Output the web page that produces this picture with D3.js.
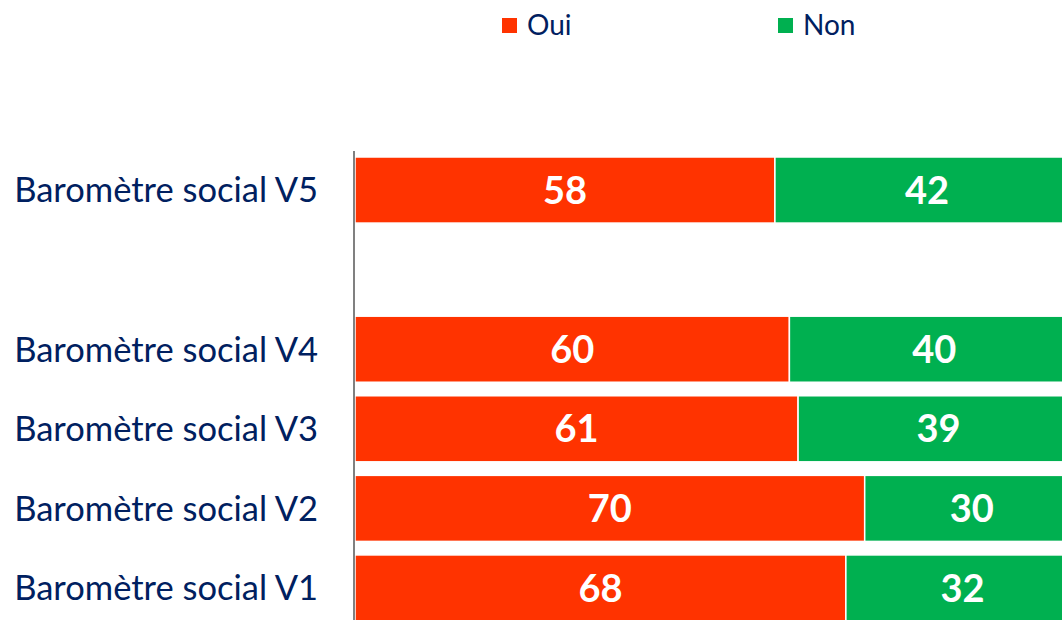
<!DOCTYPE html>
<html><head><meta charset="utf-8">
<script src="https://cdn.jsdelivr.net/npm/d3@7"></script>
<style>body{margin:0;background:#fff;overflow:hidden}svg{display:block}</style>
</head><body>
<script>
const categories = ["Baromètre social V5", "", "Baromètre social V4", "Baromètre social V3", "Baromètre social V2", "Baromètre social V1"];
const oui = [58.0, null, 60.0, 61.2, 70.4, 67.8];
const non = [42.0, null, 40.0, 38.8, 29.6, 32.2];
const seriesNames = ["Oui", "Non"];
const colors = ["#FF3300", "#00B050"];

const W = 1062, H = 620;
const svg = d3.select("body").append("svg").attr("width", W).attr("height", H);
const font = "Lato, 'Open Sans', sans-serif";

const x = d3.scaleLinear().domain([0, 100]).range([355, 1079]);
const y = d3.scaleBand().domain(categories.map((c, i) => i)).range([157, 621]).paddingInner(0.17).paddingOuter(0);

const rows = categories.map((c, i) => ({i, c, oui: oui[i], non: non[i]})).filter(d => d.oui != null);
const stack = d3.stack().keys(["oui", "non"])(rows);

stack.forEach((layer, k) => {
  const g = svg.append("g");
  g.selectAll("rect").data(layer).join("rect")
    .attr("x", d => x(d[0]))
    .attr("y", d => y(d.data.i))
    .attr("width", d => x(d[1]) - x(d[0]))
    .attr("height", y.bandwidth())
    .attr("fill", colors[k])
    .attr("stroke", "#fff").attr("stroke-width", 1.5);
  g.selectAll("text").data(layer).join("text")
    .attr("x", d => (x(d[0]) + x(d[1])) / 2)
    .attr("y", d => y(d.data.i) + y.bandwidth() / 2)
    .attr("dy", "0.36em")
    .attr("text-anchor", "middle")
    .attr("fill", "#fff")
    .attr("font-family", font).attr("font-weight", "bold").attr("font-size", 38)
    .text(d => Math.round(d[1] - d[0]));
});

// category axis
const yAxis = d3.axisLeft(y).tickSize(0).tickPadding(36).tickFormat(i => categories[i]);
const ga = svg.append("g").attr("transform", "translate(354,0)").call(yAxis);
ga.select(".domain").remove();
ga.selectAll("text").attr("font-family", font).attr("font-size", 34.5).attr("fill", "#002060").attr("dy", "0.36em");

svg.append("line").attr("x1", 354).attr("x2", 354).attr("y1", 151).attr("y2", H)
  .attr("stroke", "#808080").attr("stroke-width", 2);

// legend
const legX = [502, 778];
seriesNames.forEach((n, k) => {
  svg.append("rect").attr("x", legX[k]).attr("y", 18).attr("width", 15).attr("height", 15).attr("fill", colors[k]);
  svg.append("text").attr("x", legX[k] + 25).attr("y", 24.5).attr("dy", "0.36em")
    .attr("font-family", font).attr("font-size", 28).attr("fill", "#002060").text(n);
});
</script>
</body></html>
